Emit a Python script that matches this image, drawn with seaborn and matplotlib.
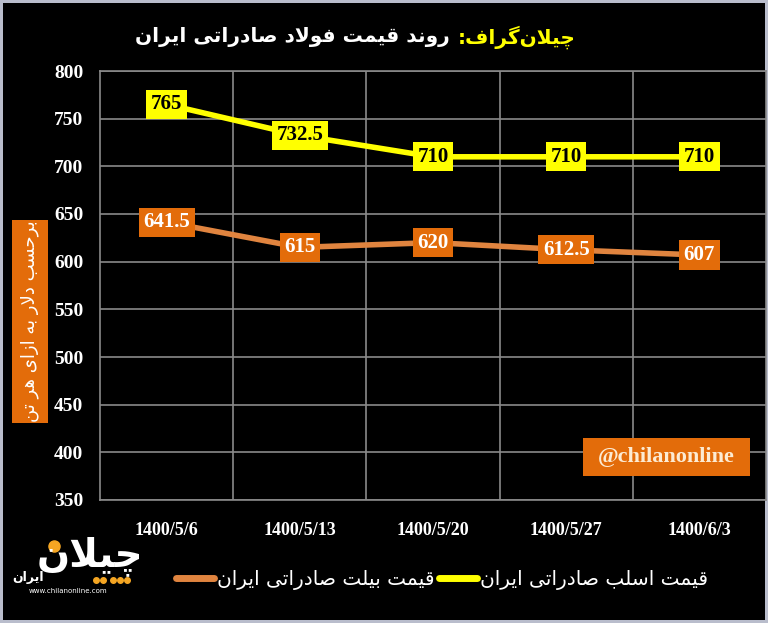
import numpy as np
import pandas as pd
import matplotlib
matplotlib.use("Agg")
import matplotlib.pyplot as plt
from matplotlib.patches import Rectangle
from matplotlib.lines import Line2D
import seaborn as sns

# Data
dates = ["1400/5/6", "1400/5/13", "1400/5/20", "1400/5/27", "1400/6/3"]
slab = [765, 732.5, 710, 710, 710]
billet = [641.5, 615, 620, 612.5, 607]
y_ticks = [350, 400, 450, 500, 550, 600, 650, 700, 750, 800]

slab_name = "قیمت اسلب صادراتی ایران"
billet_name = "قیمت بیلت صادراتی ایران"
title_brand = "چیلان\u200cگراف:"
title_main = "روند قیمت فولاد صادراتی ایران"
y_label = "برحسب دلار به ازای هر تن"
handle_text = "@chilanonline"
logo_word = "چیلان"
logo_sub = "ایران"
logo_url = "www.chilanonline.com"

YELLOW = "#FFFF00"
ORANGE_LINE = "#E0843F"
ORANGE_BOX = "#E36C0A"

# matplotlib has no arabic shaping -> pick presentation forms by hand
FORMS = {
    "ا": ("\uFE8D", "\uFE8E", None, None),
    "آ": ("\uFE81", "\uFE82", None, None),
    "ب": ("\uFE8F", "\uFE90", "\uFE91", "\uFE92"),
    "پ": ("\uFB56", "\uFB57", "\uFB58", "\uFB59"),
    "ت": ("\uFE95", "\uFE96", "\uFE97", "\uFE98"),
    "چ": ("\uFB7A", "\uFB7B", "\uFB7C", "\uFB7D"),
    "ح": ("\uFEA1", "\uFEA2", "\uFEA3", "\uFEA4"),
    "د": ("\uFEA9", "\uFEAA", None, None),
    "ر": ("\uFEAD", "\uFEAE", None, None),
    "ز": ("\uFEAF", "\uFEB0", None, None),
    "س": ("\uFEB1", "\uFEB2", "\uFEB3", "\uFEB4"),
    "ص": ("\uFEB9", "\uFEBA", "\uFEBB", "\uFEBC"),
    "ف": ("\uFED1", "\uFED2", "\uFED3", "\uFED4"),
    "ق": ("\uFED5", "\uFED6", "\uFED7", "\uFED8"),
    "گ": ("\uFB92", "\uFB93", "\uFB94", "\uFB95"),
    "ل": ("\uFEDD", "\uFEDE", "\uFEDF", "\uFEE0"),
    "م": ("\uFEE1", "\uFEE2", "\uFEE3", "\uFEE4"),
    "ن": ("\uFEE5", "\uFEE6", "\uFEE7", "\uFEE8"),
    "و": ("\uFEED", "\uFEEE", None, None),
    "ه": ("\uFEE9", "\uFEEA", "\uFEEB", "\uFEEC"),
    "ی": ("\uFBFC", "\uFBFD", "\uFBFE", "\uFBFF"),
}


def shape(text):
    out = []
    i = 0
    n = len(text)
    while i < n:
        c = text[i]
        if c not in FORMS:
            out.append("" if c == "\u200c" else c)
            i += 1
            continue
        prev = text[i - 1] if i > 0 else ""
        joins_prev = prev in FORMS and FORMS[prev][2] is not None
        if c == "ل" and i + 1 < n and text[i + 1] in "اآ":
            lig = ("\uFEFB", "\uFEFC") if text[i + 1] == "ا" else ("\uFEF5", "\uFEF6")
            out.append(lig[1] if joins_prev else lig[0])
            i += 2
            continue
        nxt = text[i + 1] if i + 1 < n else ""
        iso, fin, ini, med = FORMS[c]
        joins_next = ini is not None and nxt in FORMS
        if joins_prev and joins_next:
            out.append(med)
        elif joins_prev:
            out.append(fin)
        elif joins_next:
            out.append(ini)
        else:
            out.append(iso)
        i += 1
    return "".join(out)[::-1]


sns.set_style("dark", {"axes.facecolor": "black", "figure.facecolor": "black"})
plt.rcParams["font.family"] = ["DejaVu Sans"]

W, H = 768, 623
fig = plt.figure(figsize=(W / 100, H / 100), dpi=100)
fig.patch.set_facecolor("black")
fig.patch.set_edgecolor("#b9bdcc")
fig.patch.set_linewidth(4)


def fx(px):
    return px / W


def fy(py):
    return 1 - py / H


ax = fig.add_axes([fx(100), fy(500), fx(766) - fx(100), fy(71) - fy(500)])
ax.set_facecolor("black")

df = pd.DataFrame({
    "date": dates * 2,
    "price": billet + slab,
    "series": [billet_name] * len(dates) + [slab_name] * len(dates),
})
sns.lineplot(data=df, x="date", y="price", hue="series", sort=False,
             palette={billet_name: ORANGE_LINE, slab_name: YELLOW},
             linewidth=4, ax=ax)

ax.set_xlim(-0.5, len(dates) - 0.5)
ax.set_ylim(y_ticks[0], y_ticks[-1])
ax.set_yticks(y_ticks)
ax.set_xticks(range(len(dates)))
ax.set_xticklabels(dates)
ax.set_xticks(np.arange(0.5, len(dates) - 1, 1), minor=True)
ax.set_xlabel("")
ax.set_ylabel("")
ax.grid(False)
ax.grid(axis="y", which="major", color="#8a8a8a", linewidth=1.2)
ax.grid(axis="x", which="minor", color="#8a8a8a", linewidth=1.2)
ax.set_axisbelow(True)
for sp in ax.spines.values():
    sp.set_visible(True)
    sp.set_color("#8a8a8a")
    sp.set_linewidth(1.2)

ax.tick_params(axis="y", which="both", length=0, pad=12, labelcolor="white")
ax.tick_params(axis="x", which="both", length=0, pad=16, labelcolor="white")
for lab in ax.get_yticklabels():
    lab.set_fontfamily("Liberation Serif")
    lab.set_fontweight("bold")
    lab.set_fontsize(14)
for lab in ax.get_xticklabels():
    lab.set_fontfamily("Liberation Serif")
    lab.set_fontweight("bold")
    lab.set_fontsize(13)

# data labels
for i, v in enumerate(slab):
    ax.text(i, v, f"{v:g}", ha="center", va="center", color="black",
            fontfamily="Liberation Serif", fontweight="bold", fontsize=15, zorder=5,
            bbox=dict(boxstyle="square,pad=0.22", fc=YELLOW, ec="none"))
for i, v in enumerate(billet):
    ax.text(i, v, f"{v:g}", ha="center", va="center", color="white",
            fontfamily="Liberation Serif", fontweight="bold", fontsize=15, zorder=5,
            bbox=dict(boxstyle="square,pad=0.22", fc=ORANGE_BOX, ec="none"))

# legend, RTL labels
ax.get_legend().remove()
handles, labels = ax.get_legend_handles_labels()
leg = fig.legend(handles, [shape(l) for l in labels], loc="center",
                 bbox_to_anchor=(fx(442), fy(580)), ncol=2, frameon=False,
                 handlelength=1.9, handletextpad=0.15, columnspacing=0.2,
                 prop={"family": "DejaVu Sans", "size": 14.5})
for t in leg.get_texts():
    t.set_color("white")
for h in leg.get_lines():
    h.set_linewidth(5)

# title: yellow brand on the right, white text to its left, fitted to width
title_w = 440
title_cx = 356
t_brand = fig.text(0, fy(37), shape(title_brand), ha="right", va="center",
                   color=YELLOW, fontsize=20, fontweight="bold")
t_main = fig.text(0, fy(37), shape(title_main), ha="right", va="center",
                  color="white", fontsize=20, fontweight="bold")
r = fig.canvas.get_renderer()
wb = t_brand.get_window_extent(r).width
wm = t_main.get_window_extent(r).width
gap = 8
scale = (title_w - gap) / (wb + wm)
t_brand.set_fontsize(20 * scale)
t_main.set_fontsize(20 * scale)
right = title_cx + title_w / 2
t_brand.set_x(fx(right))
t_main.set_x(fx(right - wb * scale - gap))

# y label box
fig.patches.append(Rectangle((fx(12), fy(423)), fx(48) - fx(12), fy(220) - fy(423),
                             transform=fig.transFigure, fc=ORANGE_BOX, ec="none"))
fig.text(fx(30), fy(321), shape(y_label), rotation=90, ha="center", va="center",
         color="white", fontsize=13)

# handle box
fig.patches.append(Rectangle((fx(583), fy(476)), fx(750) - fx(583), fy(438) - fy(476),
                             transform=fig.transFigure, fc=ORANGE_BOX, ec="none", zorder=3))
fig.text(fx(666), fy(457), handle_text, ha="center", va="center", color="#FCEBD3",
         fontfamily="Liberation Serif", fontweight="bold", fontsize=16, zorder=4)

# logo
fig.text(fx(90), fy(556), shape(logo_word), ha="center", va="center",
         color="white", fontsize=28, fontweight="bold")
fig.add_artist(Line2D([fx(54)], [fy(546)], transform=fig.transFigure, marker="o",
                      markersize=8, color="#F5A623", linestyle="none"))
fig.add_artist(Line2D([fx(x) for x in (96, 103, 113, 120, 127)], [fy(580)] * 5,
                      transform=fig.transFigure, marker="o", markersize=4,
                      color="#F5A623", linestyle="none"))
fig.text(fx(28), fy(578), shape(logo_sub), ha="center", va="center",
         color="white", fontsize=9, fontweight="bold")
fig.text(fx(68), fy(591), logo_url, ha="center", va="center", color="white", fontsize=5)

fig.savefig("out.png", dpi=100, facecolor=fig.get_facecolor(), edgecolor=fig.get_edgecolor())
